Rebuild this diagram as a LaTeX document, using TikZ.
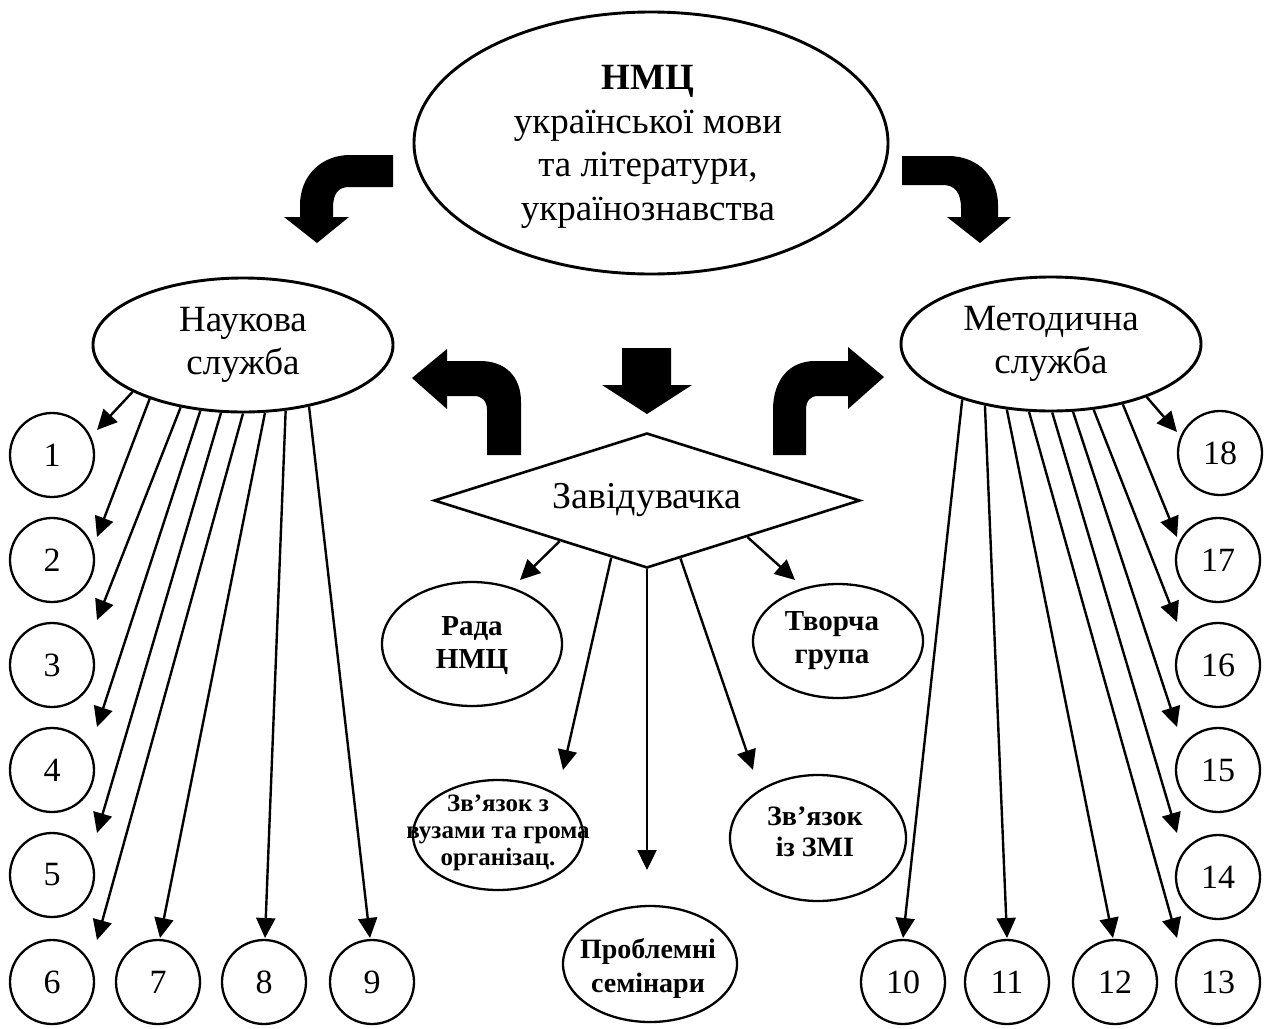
\documentclass[tikz,border=0pt]{standalone}
\usepackage{fontspec}
\setmainfont{Liberation Serif}
\usetikzlibrary{shapes.geometric,arrows.meta}
\begin{document}
\begin{tikzpicture}[x=1pt,y=-1pt,
  ell/.style={draw,ellipse,line width=2.9pt,inner sep=0pt,align=center},
  sub/.style={draw,ellipse,line width=2.3pt,inner sep=0pt,align=center},
  txt/.style={inner sep=0pt,align=center},
  num/.style={draw,circle,line width=2.3pt,minimum size=84pt,inner sep=0pt,font=\fontsize{34}{40}\selectfont},
  conn/.style={line width=2.4pt,-{Triangle[length=20pt,width=19pt]}},
  bigarrow/.style={fill=black,draw=none}
]
\useasboundingbox (0,0) rectangle (1266,1028);

% main ellipses
\node[ell,minimum width=474pt,minimum height=262pt] (nmc) at (651,143) {};
\node[txt,font=\fontsize{37}{43.5}\selectfont] (nmctext) at (648,147) {\textbf{НМЦ}\\української мови\\та літератури,\\українознавства};
\node[ell,minimum width=300pt,minimum height=134pt,font=\fontsize{37}{43}\selectfont] (nauk) at (243,345) {Наукова\\служба};
\node[ell,minimum width=300pt,minimum height=134pt,font=\fontsize{37}{43}\selectfont] (meth) at (1051,344) {Методична\\служба};

% diamond
\node[draw,diamond,line width=2.6pt,minimum width=426pt,minimum height=135pt,inner sep=0pt,aspect=3.15,font=\fontsize{38}{44}\selectfont] (zav) at (647,500.5) {Завідувачка};

% sub ellipses
\node[sub,minimum width=180pt,minimum height=124pt] (rada) at (472,644) {};
\node[txt,font=\bfseries\fontsize{29}{33}\selectfont] (radatext) at (472,646) {Рада\\НМЦ};
\node[sub,minimum width=170pt,minimum height=114pt] (tvor) at (838,641) {};
\node[txt,font=\bfseries\fontsize{29}{33}\selectfont] (tvortext) at (832,641) {Творча\\група};
\node[sub,minimum width=170pt,minimum height=110pt] (vuz) at (498,835) {};
\node[txt,font=\bfseries\fontsize{25}{27}\selectfont] (vuztext) at (498,833) {Зв’язок з\\вузами та грома\\організац.};
\node[sub,minimum width=176pt,minimum height=126pt] (zmi) at (818,838) {};
\node[txt,font=\bfseries\fontsize{28}{31}\selectfont] (zmitext) at (815,832) {Зв’язок\\із ЗМІ};
\node[sub,minimum width=174pt,minimum height=116pt] (probl) at (650,964) {};
\node[txt,font=\bfseries\fontsize{28}{34}\selectfont] (probltext) at (648,968) {Проблемні\\семінари};

% numbered circles
\foreach \n/\x/\y in {1/52/455, 2/52/560, 3/52/665, 4/52/770, 5/52/875, 6/52/982, 7/158/982, 8/264/982, 9/372/982, 10/903/982, 11/1007/982, 12/1115/982, 13/1218/982, 14/1218/877, 15/1218/770, 16/1218/665, 17/1218/560, 18/1220/453}
  \node[num] (c\n) at (\x,\y) {\n};

% arrow end points
\foreach \n/\x/\y in {1/97/430, 2/97/537, 3/97/620, 4/97/727, 5/97/833, 6/97/940, 7/160/938, 8/265/938, 9/370/938, 10/903/938, 11/1007/938, 12/1113/938, 13/1177/938, 14/1177/833, 15/1177/727, 16/1177/622, 17/1177/537, 18/1177/432}
  \coordinate (e\n) at (\x,\y);
\coordinate (d1) at (520,580);
\coordinate (d2) at (563,770);
\coordinate (d3) at (647,870);
\coordinate (d4) at (753,770);
\coordinate (d5) at (795,580);

% connectors from Наукова служба
\foreach \n/\a in {1/203.3, 2/210.8, 3/225.7, 4/237.6, 5/252.4, 6/270, 7/288.4, 8/303.2, 9/317.1}
  \draw[conn] (nauk.\a) -- (e\n);
% connectors from Методична служба
\foreach \n/\a in {10/212.6, 11/223.4, 12/236.2, 13/252.4, 14/271, 15/288.4, 16/303.2, 17/320.3, 18/331}
  \draw[conn] (meth.\a) -- (e\n);
% connectors from Завідувачка
\draw[conn] (zav.205.5) -- (d1);
\draw[conn] (zav.238.1) -- (d2);
\draw[conn] (zav.270) -- (d3);
\draw[conn] (zav.300.5) -- (d4);
\draw[conn] (zav.340.8) -- (d5);

% bold arrows
\fill[bigarrow] (393,155) -- (350,155) .. controls (321,155) and (300,176) .. (300,205) -- (300,217) -- (284,217) -- (317,243) -- (349,217) -- (333,217) -- (333,208) .. controls (333,194) and (338,187) .. (349,187) -- (393,187) -- cycle;
\fill[bigarrow] (902,156) -- (948,156) .. controls (979,156) and (998,178) .. (998,205) -- (998,217) -- (1011,217) -- (980,243) -- (947,217) -- (961,217) -- (961,208) .. controls (961,193) and (955,185) .. (943,185) -- (902,185) -- cycle;
\fill[bigarrow] (622,348) -- (671,348) -- (671,385) -- (692,385) -- (647,414) -- (602,385) -- (622,385) -- cycle;
\fill[bigarrow] (487,455) -- (521,455) -- (521,402) .. controls (521,376) and (505,361) .. (480,361) -- (447,361) -- (447,349) -- (412,378) -- (447,409) -- (447,396) -- (474,396) .. controls (482,396) and (487,401) .. (487,410) -- cycle;
\fill[bigarrow] (773,455) -- (773,410) .. controls (773,379) and (790,361) .. (815,361) -- (848,361) -- (848,347) -- (884,377) -- (848,409) -- (848,396) -- (818,396) .. controls (810,396) and (806,401) .. (806,410) -- (806,455) -- cycle;
\end{tikzpicture}
\end{document}
